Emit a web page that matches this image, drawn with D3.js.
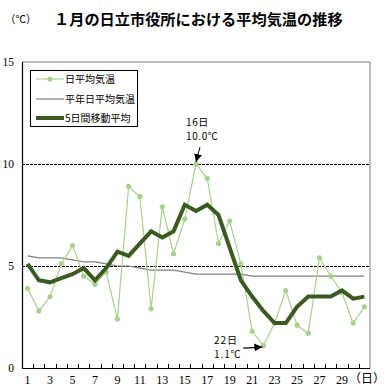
<!DOCTYPE html>
<html>
<head>
<meta charset="utf-8">
<script src="https://cdn.jsdelivr.net/npm/d3@7"></script>
<style>
  html, body { margin: 0; padding: 0; background: #fff; }
  svg { display: block; }
</style>
</head>
<body>
<svg id="chart" width="390" height="390"></svg>
<script>
// ---- data ----
const days = d3.range(1, 32);
const dailyMean = [3.9, 2.8, 3.5, 5.1, 6.0, 4.5, 4.1, 4.7, 2.4, 8.9, 8.4, 2.9, 7.9, 5.6, 7.3, 10.0,
                   9.3, 6.1, 7.2, 5.1, 1.8, 1.1, 2.2, 3.8, 2.1, 1.7, 5.4, 4.5, 3.7, 2.2, 3.0];
const normalMean = [5.5, 5.4, 5.4, 5.4, 5.3, 5.2, 5.2, 5.1, 5.0, 5.0, 4.9, 4.8, 4.8, 4.8, 4.7, 4.6,
                    4.6, 4.6, 4.6, 4.6, 4.5, 4.5, 4.5, 4.5, 4.5, 4.5, 4.5, 4.5, 4.5, 4.5, 4.5];
const movingAvg5 = [5.1, 4.3, 4.2, 4.4, 4.6, 4.9, 4.3, 4.9, 5.7, 5.5, 6.1, 6.7, 6.4, 6.7, 8.0, 7.7,
                    8.0, 7.5, 5.9, 4.3, 3.5, 2.8, 2.2, 2.2, 3.0, 3.5, 3.5, 3.5, 3.8, 3.4, 3.5];
const yTicks = [0, 5, 10, 15];
const gridValues = [5, 10];
const xLabelDays = [1, 3, 5, 7, 9, 11, 13, 15, 17, 19, 21, 23, 25, 27, 29];
const seriesNames = ["日平均気温", "平年日平均気温", "5日間移動平均"];
const titleText = "１月の日立市役所における平均気温の推移";
const unitY = "（℃）";
const unitX = "（日）";
const annMax = { day: 16, lines: ["16日", "10.0℃"] };
const annMin = { day: 22, lines: ["22日", "1.1℃"] };

// ---- layout ----
const L = 22, R = 370, T = 62, B = 368;
const cLight = "#a9d18e", cDark = "#3b5a22", cGray = "#808080";
const jp = "'Noto Sans CJK JP', 'Noto Sans', sans-serif";
const serif = "'Liberation Serif', 'DejaVu Serif', serif";

const svg = d3.select("#chart");
const x = d3.scaleBand().domain(days).range([L, R]).padding(0);
const xc = d => x(d) + x.bandwidth() / 2;
const y = d3.scaleLinear().domain([0, 15]).range([B, T]);

// frame: top and right gray
svg.append("line").attr("x1", L).attr("x2", R).attr("y1", y(15)).attr("y2", y(15))
  .attr("stroke", cGray).attr("stroke-width", 1);
svg.append("line").attr("x1", R).attr("x2", R).attr("y1", y(15)).attr("y2", B)
  .attr("stroke", cGray).attr("stroke-width", 1);

// grid
svg.selectAll(".grid").data(gridValues).enter().append("line")
  .attr("x1", L).attr("x2", R).attr("y1", d => y(d) + 0.5).attr("y2", d => y(d) + 0.5)
  .attr("stroke", "#000").attr("stroke-width", 1).attr("stroke-dasharray", "3,1");

// axes
svg.append("line").attr("x1", L + 0.5).attr("x2", L + 0.5).attr("y1", y(15)).attr("y2", B)
  .attr("stroke", "#000").attr("stroke-width", 1.2);
svg.append("line").attr("x1", L).attr("x2", R).attr("y1", B + 0.5).attr("y2", B + 0.5)
  .attr("stroke", "#000").attr("stroke-width", 1.2);

// x tick marks at band boundaries (inward)
svg.selectAll(".xt").data(days.slice(1)).enter().append("line")
  .attr("x1", d => Math.round(x(d)) + 0.5).attr("x2", d => Math.round(x(d)) + 0.5)
  .attr("y1", B).attr("y2", B - 4)
  .attr("stroke", "#000").attr("stroke-width", 1);

// x labels
svg.selectAll(".xl").data(xLabelDays).enter().append("text")
  .attr("x", d => xc(d)).attr("y", 384)
  .attr("text-anchor", "middle").attr("font-family", serif).attr("font-size", 12)
  .attr("fill", "#000").text(d => d);

// y labels
svg.selectAll(".yl").data(yTicks).enter().append("text")
  .attr("x", 14).attr("y", d => y(d) + 4)
  .attr("text-anchor", "end").attr("font-family", serif).attr("font-size", 11.5)
  .attr("fill", "#000").text(d => d);

// units / title
svg.append("text").attr("x", 5).attr("y", 23).attr("font-family", jp).attr("font-size", 10.5)
  .attr("fill", "#000").text(unitY);
svg.append("text").attr("x", 54).attr("y", 25).attr("font-family", jp).attr("font-size", 15.2)
  .attr("font-weight", "bold").attr("fill", "#000").text(titleText);
svg.append("text").attr("x", 349).attr("y", 383).attr("font-family", jp).attr("font-size", 12)
  .attr("fill", "#000").text(unitX);

// series
const line = d3.line().x((d, i) => xc(days[i])).y(d => y(d));
svg.append("path").attr("d", line(normalMean)).attr("fill", "none")
  .attr("stroke", cGray).attr("stroke-width", 1.2);
svg.append("path").attr("d", line(dailyMean)).attr("fill", "none")
  .attr("stroke", cLight).attr("stroke-width", 1.2);
svg.selectAll(".pt").data(dailyMean).enter().append("circle")
  .attr("cx", (d, i) => xc(days[i])).attr("cy", d => y(d)).attr("r", 2.6)
  .attr("fill", cLight);
svg.append("path").attr("d", line(movingAvg5)).attr("fill", "none")
  .attr("stroke", cDark).attr("stroke-width", 4).attr("stroke-linejoin", "miter");

// legend
const lg = svg.append("g");
lg.append("rect").attr("x", 30.5).attr("y", 70.5).attr("width", 107).attr("height", 56)
  .attr("fill", "#fff").attr("stroke", "#000").attr("stroke-width", 1);
const lgY = [79, 99, 118];
lg.append("line").attr("x1", 36).attr("x2", 64).attr("y1", lgY[0]).attr("y2", lgY[0])
  .attr("stroke", cLight).attr("stroke-width", 1.2);
lg.append("circle").attr("cx", 50).attr("cy", lgY[0]).attr("r", 2.6).attr("fill", cLight);
lg.append("line").attr("x1", 36).attr("x2", 64).attr("y1", lgY[1]).attr("y2", lgY[1])
  .attr("stroke", cGray).attr("stroke-width", 1.2);
lg.append("line").attr("x1", 36).attr("x2", 64).attr("y1", lgY[2]).attr("y2", lgY[2])
  .attr("stroke", cDark).attr("stroke-width", 4);
lg.selectAll(".lt").data(seriesNames).enter().append("text")
  .attr("x", 65).attr("y", (d, i) => lgY[i] + 3.6)
  .attr("font-family", jp).attr("font-size", 10).attr("fill", "#000").text(d => d);

// annotations
const defs = svg.append("defs");
defs.append("marker").attr("id", "ah").attr("viewBox", "0 0 10 10")
  .attr("refX", 10).attr("refY", 5).attr("markerWidth", 8).attr("markerHeight", 8)
  .attr("markerUnits", "userSpaceOnUse").attr("orient", "auto")
  .append("path").attr("d", "M0,0 L10,5 L0,10 z").attr("fill", "#000");

const mxX = xc(annMax.day), mxY = y(dailyMean[annMax.day - 1]);
svg.append("line").attr("x1", mxX + 4).attr("y1", mxY - 17).attr("x2", mxX).attr("y2", mxY - 2)
  .attr("stroke", "#000").attr("stroke-width", 1).attr("marker-end", "url(#ah)");
svg.selectAll(".amx").data(annMax.lines).enter().append("text")
  .attr("x", 186).attr("y", (d, i) => 126 + i * 14)
  .attr("font-family", jp).attr("font-size", 10).attr("letter-spacing", 0.6)
  .attr("fill", "#000").text(d => d);

const mnX = xc(annMin.day), mnY = y(dailyMean[annMin.day - 1]);
svg.append("line").attr("x1", mnX - 20).attr("y1", mnY + 2.5).attr("x2", mnX - 1).attr("y2", mnY + 1.5)
  .attr("stroke", "#000").attr("stroke-width", 1.2).attr("marker-end", "url(#ah)");
svg.selectAll(".amn").data(annMin.lines).enter().append("text")
  .attr("x", 214).attr("y", (d, i) => 344 + i * 14)
  .attr("font-family", jp).attr("font-size", 10).attr("letter-spacing", 0.9)
  .attr("fill", "#000").text(d => d);
</script>
</body>
</html>
